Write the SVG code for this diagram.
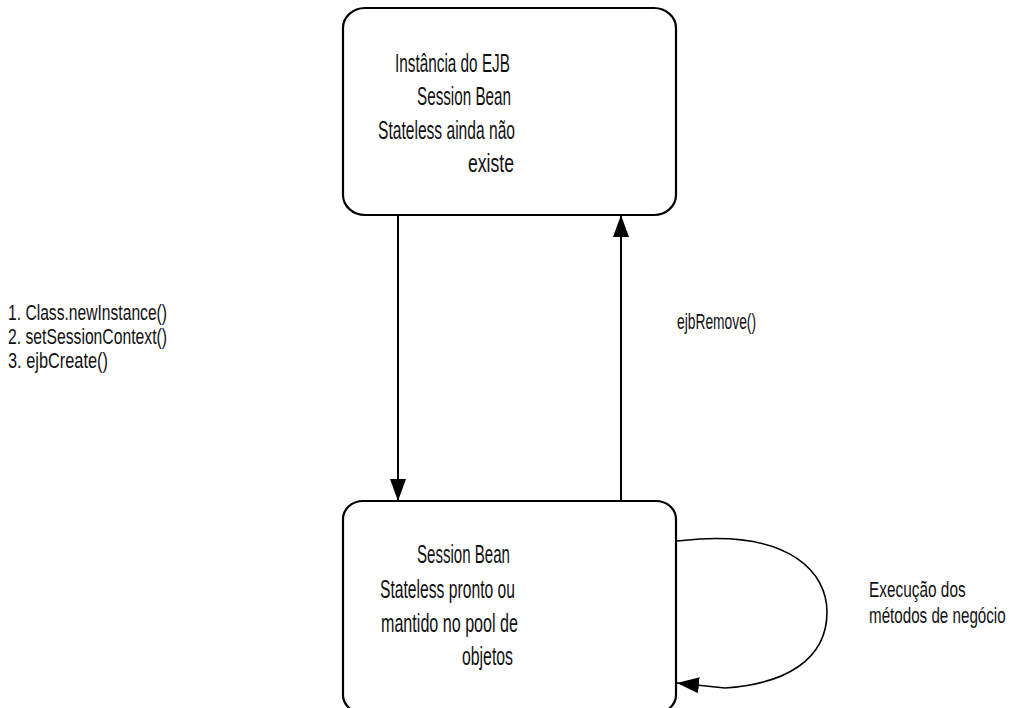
<svg xmlns="http://www.w3.org/2000/svg" width="1016" height="708" viewBox="0 0 1016 708">
  <style>
    .box { fill: #ffffff; stroke: #000000; stroke-width: 2.2; }
    .edge { fill: none; stroke: #000000; stroke-width: 2; }
    .loop { fill: none; stroke: #000000; stroke-width: 1.6; }
    text { font-family: "Liberation Sans", Arial, sans-serif; font-size: 25px; fill: #111111; }
    .lbl { font-size: 22px; }
  </style>
  <defs>
    <marker id="arrow" markerUnits="userSpaceOnUse" markerWidth="22" markerHeight="16" viewBox="0 0 22 16" refX="22" refY="8" orient="auto">
      <path d="M0,0 L22,8 L0,16 z" fill="#000000"/>
    </marker>
  </defs>
  <rect x="0" y="0" width="1016" height="708" fill="#ffffff"/>

  <g id="node-inexistente">
    <rect class="box" x="343" y="8" width="333" height="207" rx="22" ry="20"/>
    <text x="395" y="72" textLength="115" lengthAdjust="spacingAndGlyphs">Instância do EJB</text>
    <text x="417" y="105" textLength="94" lengthAdjust="spacingAndGlyphs">Session Bean</text>
    <text x="378" y="139" textLength="137" lengthAdjust="spacingAndGlyphs">Stateless ainda não</text>
    <text x="468" y="172" textLength="46" lengthAdjust="spacingAndGlyphs">existe</text>
  </g>

  <g id="node-pronto">
    <rect class="box" x="343" y="501" width="333" height="212" rx="20" ry="18"/>
    <text x="417" y="563" textLength="93" lengthAdjust="spacingAndGlyphs">Session Bean</text>
    <text x="380" y="598" textLength="135" lengthAdjust="spacingAndGlyphs">Stateless pronto ou</text>
    <text x="381" y="632" textLength="137" lengthAdjust="spacingAndGlyphs">mantido no pool de</text>
    <text x="462" y="665" textLength="51" lengthAdjust="spacingAndGlyphs">objetos</text>
  </g>

  <g id="connectors">
    <path class="edge" d="M398,215 L398,501" marker-end="url(#arrow)"/>
    <path class="edge" d="M621,501 L621,215" marker-end="url(#arrow)"/>
    <path class="loop" d="M677,541 L700,539 C790,534 827,572 827,612 C827,660 785,684 725,688 L677,683" marker-end="url(#arrow)"/>
  </g>

  <g id="labels">
    <text class="lbl" x="8" y="320" textLength="159" lengthAdjust="spacingAndGlyphs">1. Class.newInstance()</text>
    <text class="lbl" x="8" y="344" textLength="159" lengthAdjust="spacingAndGlyphs">2. setSessionContext()</text>
    <text class="lbl" x="8" y="368" textLength="100" lengthAdjust="spacingAndGlyphs">3. ejbCreate()</text>
    <text class="lbl" x="677" y="329" textLength="79" lengthAdjust="spacingAndGlyphs">ejbRemove()</text>
    <text class="lbl" transform="translate(869,597) scale(0.70,1)">Execução dos</text>
    <text class="lbl" transform="translate(869,623) scale(0.69,1)">métodos de negócio</text>
  </g>
</svg>
